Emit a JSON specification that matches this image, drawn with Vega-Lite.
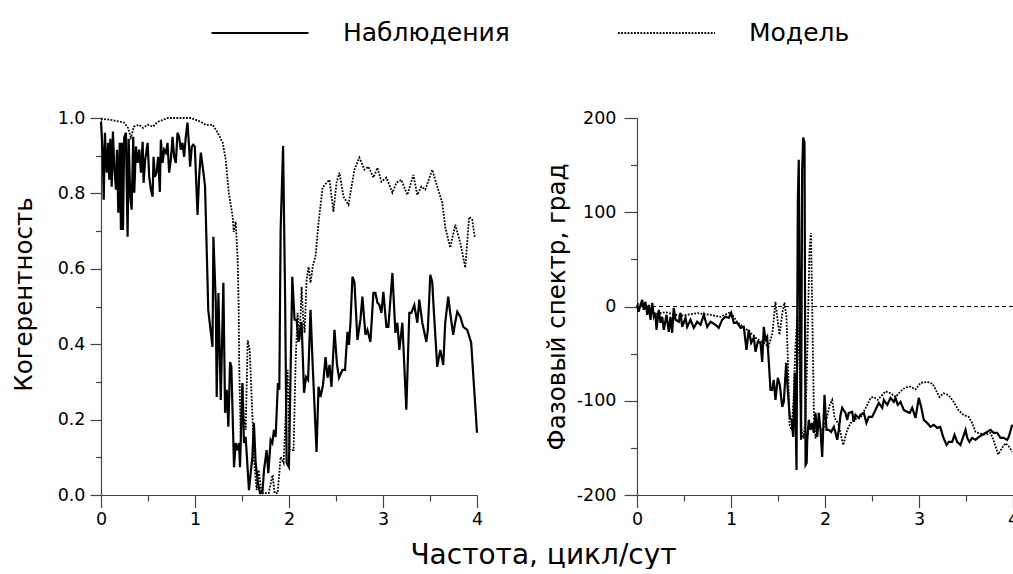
{
 "$schema": "https://vega.github.io/schema/vega-lite/v6.json",
 "background": "white",
 "padding": {"left": 11, "top": 19, "right": 0, "bottom": 0},
 "config": {
  "font": "DejaVu Sans",
  "view": {"stroke": null},
  "axis": {"grid": false, "domainColor": "#444", "tickColor": "#444", "domainWidth": 1.2, "tickWidth": 1.2, "labelFont": "DejaVu Sans", "labelFontSize": 17.5, "labelColor": "black", "titleFont": "DejaVu Sans", "titleFontSize": 24.5, "titleFontWeight": "normal", "titleColor": "black", "labelOverlap": false, "labelFlush": false}
 },
 "datasets": {
  "coh": [
   {"s":"Наблюдения","f":0,"v":0.99},{"s":"Наблюдения","f":0.018,"v":0.908},{"s":"Наблюдения","f":0.029,"v":0.783},{"s":"Наблюдения","f":0.042,"v":0.961},{"s":"Наблюдения","f":0.061,"v":0.855},{"s":"Наблюдения","f":0.077,"v":0.934},{"s":"Наблюдения","f":0.088,"v":0.836},{"s":"Наблюдения","f":0.099,"v":0.945},{"s":"Наблюдения","f":0.114,"v":0.818},{"s":"Наблюдения","f":0.127,"v":0.964},{"s":"Наблюдения","f":0.141,"v":0.871},{"s":"Наблюдения","f":0.159,"v":0.81},{"s":"Наблюдения","f":0.17,"v":0.916},{"s":"Наблюдения","f":0.184,"v":0.749},{"s":"Наблюдения","f":0.199,"v":0.934},{"s":"Наблюдения","f":0.212,"v":0.703},{"s":"Наблюдения","f":0.223,"v":0.934},{"s":"Наблюдения","f":0.234,"v":0.703},{"s":"Наблюдения","f":0.247,"v":0.948},{"s":"Наблюдения","f":0.265,"v":0.961},{"s":"Наблюдения","f":0.283,"v":0.685},{"s":"Наблюдения","f":0.294,"v":0.945},{"s":"Наблюдения","f":0.311,"v":0.791},{"s":"Наблюдения","f":0.326,"v":0.757},{"s":"Наблюдения","f":0.343,"v":0.95},{"s":"Наблюдения","f":0.354,"v":0.802},{"s":"Наблюдения","f":0.372,"v":0.924},{"s":"Наблюдения","f":0.39,"v":0.881},{"s":"Наблюдения","f":0.407,"v":0.916},{"s":"Наблюдения","f":0.425,"v":0.855},{"s":"Наблюдения","f":0.443,"v":0.937},{"s":"Наблюдения","f":0.453,"v":0.828},{"s":"Наблюдения","f":0.47,"v":0.889},{"s":"Наблюдения","f":0.496,"v":0.934},{"s":"Наблюдения","f":0.513,"v":0.844},{"s":"Наблюдения","f":0.531,"v":0.81},{"s":"Наблюдения","f":0.549,"v":0.791},{"s":"Наблюдения","f":0.559,"v":0.897},{"s":"Наблюдения","f":0.573,"v":0.844},{"s":"Наблюдения","f":0.591,"v":0.855},{"s":"Наблюдения","f":0.608,"v":0.897},{"s":"Наблюдения","f":0.626,"v":0.804},{"s":"Наблюдения","f":0.637,"v":0.942},{"s":"Наблюдения","f":0.655,"v":0.881},{"s":"Наблюдения","f":0.672,"v":0.916},{"s":"Наблюдения","f":0.69,"v":0.908},{"s":"Наблюдения","f":0.708,"v":0.934},{"s":"Наблюдения","f":0.725,"v":0.855},{"s":"Наблюдения","f":0.743,"v":0.889},{"s":"Наблюдения","f":0.761,"v":0.95},{"s":"Наблюдения","f":0.778,"v":0.897},{"s":"Наблюдения","f":0.796,"v":0.881},{"s":"Наблюдения","f":0.814,"v":0.961},{"s":"Наблюдения","f":0.831,"v":0.95},{"s":"Наблюдения","f":0.849,"v":0.916},{"s":"Наблюдения","f":0.867,"v":0.934},{"s":"Наблюдения","f":0.884,"v":0.897},{"s":"Наблюдения","f":0.902,"v":0.95},{"s":"Наблюдения","f":0.92,"v":0.988},{"s":"Наблюдения","f":0.937,"v":0.924},{"s":"Наблюдения","f":0.948,"v":0.871},{"s":"Наблюдения","f":0.966,"v":0.924},{"s":"Наблюдения","f":0.98,"v":0.929},{"s":"Наблюдения","f":0.998,"v":0.924},{"s":"Наблюдения","f":1.027,"v":0.743},{"s":"Наблюдения","f":1.044,"v":0.844},{"s":"Наблюдения","f":1.062,"v":0.908},{"s":"Наблюдения","f":1.086,"v":0.863},{"s":"Наблюдения","f":1.107,"v":0.818},{"s":"Наблюдения","f":1.133,"v":0.571},{"s":"Наблюдения","f":1.141,"v":0.491},{"s":"Наблюдения","f":1.186,"v":0.393},{"s":"Наблюдения","f":1.196,"v":0.685},{"s":"Наблюдения","f":1.221,"v":0.51},{"s":"Наблюдения","f":1.231,"v":0.26},{"s":"Наблюдения","f":1.249,"v":0.536},{"s":"Наблюдения","f":1.274,"v":0.252},{"s":"Наблюдения","f":1.302,"v":0.563},{"s":"Наблюдения","f":1.32,"v":0.218},{"s":"Наблюдения","f":1.338,"v":0.279},{"s":"Наблюдения","f":1.355,"v":0.181},{"s":"Наблюдения","f":1.373,"v":0.353},{"s":"Наблюдения","f":1.387,"v":0.34},{"s":"Наблюдения","f":1.415,"v":0.074},{"s":"Наблюдения","f":1.433,"v":0.138},{"s":"Наблюдения","f":1.451,"v":0.119},{"s":"Наблюдения","f":1.468,"v":0.138},{"s":"Наблюдения","f":1.479,"v":0.074},{"s":"Наблюдения","f":1.504,"v":0.297},{"s":"Наблюдения","f":1.521,"v":0.138},{"s":"Наблюдения","f":1.539,"v":0.154},{"s":"Наблюдения","f":1.574,"v":0.013},{"s":"Наблюдения","f":1.61,"v":0.101},{"s":"Наблюдения","f":1.627,"v":0.191},{"s":"Наблюдения","f":1.645,"v":0.085},{"s":"Наблюдения","f":1.67,"v":0.032},{"s":"Наблюдения","f":1.691,"v":0.005},{"s":"Наблюдения","f":1.717,"v":0.005},{"s":"Наблюдения","f":1.734,"v":0.066},{"s":"Наблюдения","f":1.762,"v":0.119},{"s":"Наблюдения","f":1.78,"v":0.058},{"s":"Наблюдения","f":1.805,"v":0.146},{"s":"Наблюдения","f":1.823,"v":0.138},{"s":"Наблюдения","f":1.84,"v":0.173},{"s":"Наблюдения","f":1.858,"v":0.154},{"s":"Наблюдения","f":1.882,"v":0.297},{"s":"Наблюдения","f":1.897,"v":0.279},{"s":"Наблюдения","f":1.911,"v":0.703},{"s":"Наблюдения","f":1.937,"v":0.926},{"s":"Наблюдения","f":1.959,"v":0.518},{"s":"Наблюдения","f":1.975,"v":0.085},{"s":"Наблюдения","f":1.999,"v":0.074},{"s":"Наблюдения","f":2.035,"v":0.579},{"s":"Наблюдения","f":2.059,"v":0.465},{"s":"Наблюдения","f":2.081,"v":0.465},{"s":"Наблюдения","f":2.102,"v":0.406},{"s":"Наблюдения","f":2.134,"v":0.459},{"s":"Наблюдения","f":2.16,"v":0.271},{"s":"Наблюдения","f":2.182,"v":0.313},{"s":"Наблюдения","f":2.203,"v":0.305},{"s":"Наблюдения","f":2.229,"v":0.491},{"s":"Наблюдения","f":2.251,"v":0.35},{"s":"Наблюдения","f":2.293,"v":0.114},{"s":"Наблюдения","f":2.314,"v":0.287},{"s":"Наблюдения","f":2.335,"v":0.26},{"s":"Наблюдения","f":2.362,"v":0.292},{"s":"Наблюдения","f":2.389,"v":0.366},{"s":"Наблюдения","f":2.41,"v":0.311},{"s":"Наблюдения","f":2.431,"v":0.345},{"s":"Наблюдения","f":2.452,"v":0.287},{"s":"Наблюдения","f":2.484,"v":0.438},{"s":"Наблюдения","f":2.511,"v":0.345},{"s":"Наблюдения","f":2.532,"v":0.311},{"s":"Наблюдения","f":2.569,"v":0.332},{"s":"Наблюдения","f":2.596,"v":0.332},{"s":"Наблюдения","f":2.622,"v":0.433},{"s":"Наблюдения","f":2.638,"v":0.398},{"s":"Наблюдения","f":2.654,"v":0.457},{"s":"Наблюдения","f":2.675,"v":0.579},{"s":"Наблюдения","f":2.696,"v":0.565},{"s":"Наблюдения","f":2.728,"v":0.411},{"s":"Наблюдения","f":2.76,"v":0.465},{"s":"Наблюдения","f":2.781,"v":0.526},{"s":"Наблюдения","f":2.813,"v":0.425},{"s":"Наблюдения","f":2.834,"v":0.438},{"s":"Наблюдения","f":2.866,"v":0.406},{"s":"Наблюдения","f":2.898,"v":0.536},{"s":"Наблюдения","f":2.919,"v":0.536},{"s":"Наблюдения","f":2.941,"v":0.51},{"s":"Наблюдения","f":2.962,"v":0.504},{"s":"Наблюдения","f":2.983,"v":0.483},{"s":"Наблюдения","f":3.004,"v":0.539},{"s":"Наблюдения","f":3.036,"v":0.446},{"s":"Наблюдения","f":3.057,"v":0.446},{"s":"Наблюдения","f":3.1,"v":0.589},{"s":"Наблюдения","f":3.132,"v":0.43},{"s":"Наблюдения","f":3.153,"v":0.457},{"s":"Наблюдения","f":3.174,"v":0.385},{"s":"Наблюдения","f":3.206,"v":0.457},{"s":"Наблюдения","f":3.248,"v":0.226},{"s":"Наблюдения","f":3.28,"v":0.483},{"s":"Наблюдения","f":3.301,"v":0.483},{"s":"Наблюдения","f":3.333,"v":0.504},{"s":"Наблюдения","f":3.365,"v":0.457},{"s":"Наблюдения","f":3.386,"v":0.518},{"s":"Наблюдения","f":3.418,"v":0.457},{"s":"Наблюдения","f":3.461,"v":0.406},{"s":"Наблюдения","f":3.477,"v":0.438},{"s":"Наблюдения","f":3.503,"v":0.584},{"s":"Наблюдения","f":3.524,"v":0.565},{"s":"Наблюдения","f":3.54,"v":0.491},{"s":"Наблюдения","f":3.577,"v":0.34},{"s":"Наблюдения","f":3.609,"v":0.385},{"s":"Наблюдения","f":3.641,"v":0.345},{"s":"Наблюдения","f":3.662,"v":0.457},{"s":"Наблюдения","f":3.694,"v":0.526},{"s":"Наблюдения","f":3.715,"v":0.483},{"s":"Наблюдения","f":3.747,"v":0.425},{"s":"Наблюдения","f":3.763,"v":0.451},{"s":"Наблюдения","f":3.79,"v":0.486},{"s":"Наблюдения","f":3.822,"v":0.473},{"s":"Наблюдения","f":3.854,"v":0.446},{"s":"Наблюдения","f":3.896,"v":0.438},{"s":"Наблюдения","f":3.938,"v":0.404},{"s":"Наблюдения","f":4.0,"v":0.165},
   {"s":"Модель","f":0,"v":0.998},{"s":"Модель","f":0.106,"v":0.995},{"s":"Модель","f":0.244,"v":0.988},{"s":"Модель","f":0.287,"v":0.974},{"s":"Модель","f":0.318,"v":0.948},{"s":"Модель","f":0.35,"v":0.977},{"s":"Модель","f":0.403,"v":0.982},{"s":"Модель","f":0.446,"v":0.974},{"s":"Модель","f":0.499,"v":0.982},{"s":"Модель","f":0.552,"v":0.977},{"s":"Модель","f":0.605,"v":0.99},{"s":"Модель","f":0.711,"v":1.0},{"s":"Модель","f":0.955,"v":1.0},{"s":"Модель","f":1.062,"v":0.99},{"s":"Модель","f":1.115,"v":0.982},{"s":"Модель","f":1.189,"v":0.982},{"s":"Модель","f":1.242,"v":0.961},{"s":"Модель","f":1.295,"v":0.934},{"s":"Модель","f":1.327,"v":0.889},{"s":"Модель","f":1.359,"v":0.802},{"s":"Модель","f":1.401,"v":0.738},{"s":"Модель","f":1.412,"v":0.698},{"s":"Модель","f":1.433,"v":0.725},{"s":"Модель","f":1.454,"v":0.624},{"s":"Модель","f":1.465,"v":0.491},{"s":"Модель","f":1.47,"v":0.35},{"s":"Модель","f":1.486,"v":0.154},{"s":"Модель","f":1.507,"v":0.297},{"s":"Модель","f":1.518,"v":0.207},{"s":"Модель","f":1.539,"v":0.173},{"s":"Модель","f":1.561,"v":0.411},{"s":"Модель","f":1.582,"v":0.385},{"s":"Модель","f":1.614,"v":0.191},{"s":"Модель","f":1.624,"v":0.101},{"s":"Модель","f":1.656,"v":0.013},{"s":"Модель","f":1.677,"v":0.066},{"s":"Модель","f":1.709,"v":0.005},{"s":"Модель","f":1.783,"v":0.005},{"s":"Модель","f":1.826,"v":0.053},{"s":"Модель","f":1.847,"v":0.005},{"s":"Модель","f":1.879,"v":0.005},{"s":"Модель","f":1.911,"v":0.101},{"s":"Модель","f":1.943,"v":0.085},{"s":"Модель","f":1.964,"v":0.207},{"s":"Модель","f":1.985,"v":0.332},{"s":"Модель","f":2.006,"v":0.119},{"s":"Модель","f":2.049,"v":0.119},{"s":"Модель","f":2.07,"v":0.35},{"s":"Модель","f":2.091,"v":0.483},{"s":"Модель","f":2.113,"v":0.411},{"s":"Модель","f":2.134,"v":0.552},{"s":"Модель","f":2.15,"v":0.473},{"s":"Модель","f":2.166,"v":0.43},{"s":"Модель","f":2.187,"v":0.571},{"s":"Модель","f":2.208,"v":0.605},{"s":"Модель","f":2.229,"v":0.563},{"s":"Модель","f":2.256,"v":0.611},{"s":"Модель","f":2.282,"v":0.632},{"s":"Модель","f":2.314,"v":0.722},{"s":"Модель","f":2.357,"v":0.815},{"s":"Модель","f":2.399,"v":0.828},{"s":"Модель","f":2.431,"v":0.836},{"s":"Модель","f":2.473,"v":0.751},{"s":"Модель","f":2.505,"v":0.828},{"s":"Модель","f":2.537,"v":0.855},{"s":"Модель","f":2.58,"v":0.791},{"s":"Модель","f":2.633,"v":0.77},{"s":"Модель","f":2.696,"v":0.863},{"s":"Модель","f":2.749,"v":0.895},{"s":"Модель","f":2.803,"v":0.863},{"s":"Модель","f":2.845,"v":0.871},{"s":"Модель","f":2.898,"v":0.842},{"s":"Модель","f":2.941,"v":0.868},{"s":"Модель","f":2.983,"v":0.831},{"s":"Модель","f":3.036,"v":0.842},{"s":"Модель","f":3.1,"v":0.802},{"s":"Модель","f":3.142,"v":0.828},{"s":"Модель","f":3.195,"v":0.836},{"s":"Модель","f":3.259,"v":0.796},{"s":"Модель","f":3.323,"v":0.849},{"s":"Модель","f":3.365,"v":0.796},{"s":"Модель","f":3.408,"v":0.818},{"s":"Модель","f":3.45,"v":0.81},{"s":"Модель","f":3.524,"v":0.863},{"s":"Модель","f":3.577,"v":0.818},{"s":"Модель","f":3.631,"v":0.775},{"s":"Модель","f":3.662,"v":0.711},{"s":"Модель","f":3.715,"v":0.656},{"s":"Модель","f":3.769,"v":0.717},{"s":"Модель","f":3.822,"v":0.669},{"s":"Модель","f":3.875,"v":0.603},{"s":"Модель","f":3.917,"v":0.738},{"s":"Модель","f":3.949,"v":0.73},{"s":"Модель","f":3.976,"v":0.685}
  ],
  "phase": [
   {"s":"Наблюдения","f":0.002,"v":1.8},{"s":"Наблюдения","f":0.016,"v":-5.6},{"s":"Наблюдения","f":0.055,"v":7.1},{"s":"Наблюдения","f":0.072,"v":-3.5},{"s":"Наблюдения","f":0.09,"v":5},{"s":"Наблюдения","f":0.109,"v":-8.8},{"s":"Наблюдения","f":0.126,"v":1.8},{"s":"Наблюдения","f":0.144,"v":-14.1},{"s":"Наблюдения","f":0.162,"v":3.9},{"s":"Наблюдения","f":0.179,"v":-10.9},{"s":"Наблюдения","f":0.197,"v":-6.7},{"s":"Наблюдения","f":0.207,"v":-24.7},{"s":"Наблюдения","f":0.232,"v":-3.5},{"s":"Наблюдения","f":0.25,"v":-17.3},{"s":"Наблюдения","f":0.268,"v":-10.9},{"s":"Наблюдения","f":0.285,"v":-24.7},{"s":"Наблюдения","f":0.314,"v":-8.8},{"s":"Наблюдения","f":0.338,"v":-26.9},{"s":"Наблюдения","f":0.356,"v":-10.9},{"s":"Наблюдения","f":0.374,"v":-27.9},{"s":"Наблюдения","f":0.391,"v":-1.4},{"s":"Наблюдения","f":0.41,"v":-14.1},{"s":"Наблюдения","f":0.445,"v":-16.2},{"s":"Наблюдения","f":0.463,"v":-6.7},{"s":"Наблюдения","f":0.481,"v":-21.6},{"s":"Наблюдения","f":0.516,"v":-12},{"s":"Наблюдения","f":0.534,"v":-21.6},{"s":"Наблюдения","f":0.569,"v":-14.1},{"s":"Наблюдения","f":0.604,"v":-22.6},{"s":"Наблюдения","f":0.64,"v":-16.2},{"s":"Наблюдения","f":0.676,"v":-19.4},{"s":"Наблюдения","f":0.711,"v":-8.8},{"s":"Наблюдения","f":0.747,"v":-21.6},{"s":"Наблюдения","f":0.782,"v":-16.2},{"s":"Наблюдения","f":0.835,"v":-19.4},{"s":"Наблюдения","f":0.87,"v":-22.6},{"s":"Наблюдения","f":0.906,"v":-14.1},{"s":"Наблюдения","f":0.941,"v":-10.9},{"s":"Наблюдения","f":0.977,"v":-12},{"s":"Наблюдения","f":1.002,"v":-6.7},{"s":"Наблюдения","f":1.03,"v":-17.3},{"s":"Наблюдения","f":1.066,"v":-17.3},{"s":"Наблюдения","f":1.101,"v":-22.6},{"s":"Наблюдения","f":1.136,"v":-21.6},{"s":"Наблюдения","f":1.165,"v":-46},{"s":"Наблюдения","f":1.189,"v":-24.7},{"s":"Наблюдения","f":1.215,"v":-38.5},{"s":"Наблюдения","f":1.243,"v":-33.1},{"s":"Наблюдения","f":1.261,"v":-48.1},{"s":"Наблюдения","f":1.285,"v":-37.5},{"s":"Наблюдения","f":1.314,"v":-38.5},{"s":"Наблюдения","f":1.332,"v":-58.7},{"s":"Наблюдения","f":1.349,"v":-21.6},{"s":"Наблюдения","f":1.367,"v":-35.4},{"s":"Наблюдения","f":1.385,"v":-32.2},{"s":"Наблюдения","f":1.404,"v":-61.9},{"s":"Наблюдения","f":1.42,"v":-88.5},{"s":"Наблюдения","f":1.438,"v":-88.5},{"s":"Наблюдения","f":1.455,"v":-77.8},{"s":"Наблюдения","f":1.473,"v":-99.1},{"s":"Наблюдения","f":1.498,"v":-75.7},{"s":"Наблюдения","f":1.519,"v":-83.1},{"s":"Наблюдения","f":1.545,"v":-106.5},{"s":"Наблюдения","f":1.562,"v":-101.2},{"s":"Наблюдения","f":1.587,"v":-59.8},{"s":"Наблюдения","f":1.604,"v":-88.5},{"s":"Наблюдения","f":1.626,"v":-118.2},{"s":"Наблюдения","f":1.644,"v":-120.3},{"s":"Наблюдения","f":1.662,"v":-138.4},{"s":"Наблюдения","f":1.679,"v":-70.4},{"s":"Наблюдения","f":1.697,"v":-173.4},{"s":"Наблюдения","f":1.711,"v":113.3},{"s":"Наблюдения","f":1.721,"v":155.8},{"s":"Наблюдения","f":1.732,"v":-14.1},{"s":"Наблюдения","f":1.745,"v":-141.5},{"s":"Наблюдения","f":1.757,"v":145.2},{"s":"Наблюдения","f":1.768,"v":179.2},{"s":"Наблюдения","f":1.782,"v":173.9},{"s":"Наблюдения","f":1.793,"v":-168.1},{"s":"Наблюдения","f":1.805,"v":-166},{"s":"Наблюдения","f":1.811,"v":-141.5},{"s":"Наблюдения","f":1.828,"v":-120.3},{"s":"Наблюдения","f":1.846,"v":-130.9},{"s":"Наблюдения","f":1.864,"v":-123.5},{"s":"Наблюдения","f":1.881,"v":-134.1},{"s":"Наблюдения","f":1.899,"v":-112.9},{"s":"Наблюдения","f":1.917,"v":-138.4},{"s":"Наблюдения","f":1.934,"v":-112.9},{"s":"Наблюдения","f":1.952,"v":-130.9},{"s":"Наблюдения","f":1.97,"v":-159.6},{"s":"Наблюдения","f":1.995,"v":-93.8},{"s":"Наблюдения","f":2.016,"v":-130.9},{"s":"Наблюдения","f":2.04,"v":-130.9},{"s":"Наблюдения","f":2.066,"v":-133.1},{"s":"Наблюдения","f":2.094,"v":-127.7},{"s":"Наблюдения","f":2.112,"v":-134.1},{"s":"Наблюдения","f":2.13,"v":-141.5},{"s":"Наблюдения","f":2.147,"v":-130.9},{"s":"Наблюдения","f":2.165,"v":-115},{"s":"Наблюдения","f":2.183,"v":-107.5},{"s":"Наблюдения","f":2.218,"v":-112.9},{"s":"Наблюдения","f":2.236,"v":-120.3},{"s":"Наблюдения","f":2.253,"v":-112.9},{"s":"Наблюдения","f":2.289,"v":-111.8},{"s":"Наблюдения","f":2.306,"v":-122.4},{"s":"Наблюдения","f":2.324,"v":-115},{"s":"Наблюдения","f":2.36,"v":-118.2},{"s":"Наблюдения","f":2.378,"v":-115},{"s":"Наблюдения","f":2.413,"v":-112.9},{"s":"Наблюдения","f":2.441,"v":-123.5},{"s":"Наблюдения","f":2.466,"v":-117.1},{"s":"Наблюдения","f":2.502,"v":-117.1},{"s":"Наблюдения","f":2.537,"v":-109.7},{"s":"Наблюдения","f":2.572,"v":-102.3},{"s":"Наблюдения","f":2.609,"v":-107.5},{"s":"Наблюдения","f":2.626,"v":-99.1},{"s":"Наблюдения","f":2.662,"v":-104.4},{"s":"Наблюдения","f":2.697,"v":-96.9},{"s":"Наблюдения","f":2.732,"v":-101.2},{"s":"Наблюдения","f":2.75,"v":-96.9},{"s":"Наблюдения","f":2.774,"v":-104.4},{"s":"Наблюдения","f":2.803,"v":-101.2},{"s":"Наблюдения","f":2.838,"v":-109.7},{"s":"Наблюдения","f":2.874,"v":-111.8},{"s":"Наблюдения","f":2.902,"v":-112.9},{"s":"Наблюдения","f":2.928,"v":-107.5},{"s":"Наблюдения","f":2.963,"v":-118.2},{"s":"Наблюдения","f":2.998,"v":-96.9},{"s":"Наблюдения","f":3.023,"v":-106.5},{"s":"Наблюдения","f":3.051,"v":-120.3},{"s":"Наблюдения","f":3.087,"v":-123.5},{"s":"Наблюдения","f":3.122,"v":-127.7},{"s":"Наблюдения","f":3.157,"v":-125.6},{"s":"Наблюдения","f":3.194,"v":-128.8},{"s":"Наблюдения","f":3.226,"v":-127.7},{"s":"Наблюдения","f":3.257,"v":-138.4},{"s":"Наблюдения","f":3.293,"v":-146.9},{"s":"Наблюдения","f":3.317,"v":-143.7},{"s":"Наблюдения","f":3.353,"v":-143.7},{"s":"Наблюдения","f":3.378,"v":-136.2},{"s":"Наблюдения","f":3.406,"v":-143.7},{"s":"Наблюдения","f":3.441,"v":-146.9},{"s":"Наблюдения","f":3.477,"v":-136.2},{"s":"Наблюдения","f":3.495,"v":-130.9},{"s":"Наблюдения","f":3.513,"v":-139.4},{"s":"Наблюдения","f":3.537,"v":-143.7},{"s":"Наблюдения","f":3.566,"v":-139.4},{"s":"Наблюдения","f":3.601,"v":-141.5},{"s":"Наблюдения","f":3.636,"v":-138.4},{"s":"Наблюдения","f":3.672,"v":-136.2},{"s":"Наблюдения","f":3.707,"v":-134.1},{"s":"Наблюдения","f":3.761,"v":-130.9},{"s":"Наблюдения","f":3.796,"v":-134.1},{"s":"Наблюдения","f":3.832,"v":-134.1},{"s":"Наблюдения","f":3.867,"v":-139.4},{"s":"Наблюдения","f":3.902,"v":-139.4},{"s":"Наблюдения","f":3.938,"v":-141.5},{"s":"Наблюдения","f":3.955,"v":-138.4},{"s":"Наблюдения","f":3.991,"v":-125.6},
   {"s":"Модель","f":0.002,"v":3},{"s":"Модель","f":0.09,"v":0},{"s":"Модель","f":0.197,"v":-8},{"s":"Модель","f":0.303,"v":-6},{"s":"Модель","f":0.463,"v":-10},{"s":"Модель","f":0.644,"v":-7},{"s":"Модель","f":0.782,"v":-9},{"s":"Модель","f":0.888,"v":-11},{"s":"Модель","f":0.995,"v":-6},{"s":"Модель","f":1.069,"v":-17},{"s":"Модель","f":1.176,"v":-25},{"s":"Модель","f":1.282,"v":-35},{"s":"Модель","f":1.346,"v":-38},{"s":"Модель","f":1.399,"v":-43},{"s":"Модель","f":1.441,"v":-28},{"s":"Модель","f":1.473,"v":5},{"s":"Модель","f":1.495,"v":-14},{"s":"Модель","f":1.516,"v":-30},{"s":"Модель","f":1.548,"v":-6},{"s":"Модель","f":1.569,"v":4},{"s":"Модель","f":1.59,"v":-11},{"s":"Модель","f":1.606,"v":-60},{"s":"Модель","f":1.622,"v":-125},{"s":"Модель","f":1.644,"v":-131},{"s":"Модель","f":1.665,"v":-100},{"s":"Модель","f":1.686,"v":-40},{"s":"Модель","f":1.707,"v":-10},{"s":"Модель","f":1.729,"v":-60},{"s":"Модель","f":1.75,"v":-130},{"s":"Модель","f":1.771,"v":-140},{"s":"Модель","f":1.793,"v":-120},{"s":"Модель","f":1.814,"v":-40},{"s":"Модель","f":1.835,"v":60},{"s":"Модель","f":1.851,"v":78},{"s":"Модель","f":1.867,"v":-20},{"s":"Модель","f":1.883,"v":-120},{"s":"Модель","f":1.899,"v":-140},{"s":"Модель","f":1.931,"v":-128},{"s":"Модель","f":1.973,"v":-132},{"s":"Модель","f":2.016,"v":-120},{"s":"Модель","f":2.048,"v":-105},{"s":"Модель","f":2.077,"v":-99},{"s":"Модель","f":2.101,"v":-118},{"s":"Модель","f":2.144,"v":-125},{"s":"Модель","f":2.194,"v":-147},{"s":"Модель","f":2.236,"v":-131},{"s":"Модель","f":2.271,"v":-124},{"s":"Модель","f":2.303,"v":-120},{"s":"Модель","f":2.378,"v":-118},{"s":"Модель","f":2.41,"v":-112},{"s":"Модель","f":2.452,"v":-104},{"s":"Модель","f":2.484,"v":-97},{"s":"Модель","f":2.516,"v":-96},{"s":"Модель","f":2.559,"v":-99},{"s":"Модель","f":2.59,"v":-96},{"s":"Модель","f":2.644,"v":-90},{"s":"Модель","f":2.697,"v":-92},{"s":"Модель","f":2.75,"v":-96},{"s":"Модель","f":2.803,"v":-90},{"s":"Модель","f":2.856,"v":-86},{"s":"Модель","f":2.91,"v":-85},{"s":"Модель","f":2.963,"v":-88},{"s":"Модель","f":3.016,"v":-81},{"s":"Модель","f":3.09,"v":-80},{"s":"Модель","f":3.144,"v":-82},{"s":"Модель","f":3.176,"v":-88},{"s":"Модель","f":3.218,"v":-96},{"s":"Модель","f":3.261,"v":-92},{"s":"Модель","f":3.314,"v":-94},{"s":"Модель","f":3.367,"v":-101},{"s":"Модель","f":3.42,"v":-110},{"s":"Модель","f":3.473,"v":-115},{"s":"Модель","f":3.527,"v":-117},{"s":"Модель","f":3.569,"v":-124},{"s":"Модель","f":3.601,"v":-133},{"s":"Модель","f":3.654,"v":-135},{"s":"Модель","f":3.707,"v":-136},{"s":"Модель","f":3.761,"v":-134},{"s":"Модель","f":3.793,"v":-142},{"s":"Модель","f":3.843,"v":-157},{"s":"Модель","f":3.885,"v":-150},{"s":"Модель","f":3.92,"v":-145},{"s":"Модель","f":3.952,"v":-148},{"s":"Модель","f":3.991,"v":-154}
  ]
 },
 "spacing": 160,
 "bounds": "flush",
 "hconcat": [
  {
   "width": 376,
   "height": 377,
   "data": {"name": "coh"},
   "mark": {"type": "line", "color": "black"},
   "encoding": {
    "x": {"field": "f", "type": "quantitative", "scale": {"domain": [0, 4], "nice": false},
     "axis": {"values": [0, 0.5, 1, 1.5, 2, 2.5, 3, 3.5, 4], "labelExpr": "datum.value % 1 === 0 ? '' + datum.value : ''",
      "tickSize": {"condition": {"test": "datum.value % 1 === 0", "value": 12.5}, "value": 6}, "labelPadding": 3,
      "title": "Частота, цикл/сут", "titleX": 442, "titleY": 68, "titleAlign": "center", "titleBaseline": "alphabetic", "titleFontSize": 28}},
    "y": {"field": "v", "type": "quantitative", "scale": {"domain": [0, 1], "nice": false, "zero": false},
     "axis": {"values": [0, 0.1, 0.2, 0.3, 0.4, 0.5, 0.6, 0.7, 0.8, 0.9, 1], "labelExpr": "round(datum.value*10) % 2 === 0 ? format(datum.value, '.1f') : ''",
      "tickSize": {"condition": {"test": "round(datum.value*10) % 2 === 0", "value": 11}, "value": 5.5}, "labelPadding": 5,
      "title": "Когерентность", "titlePadding": 21, "titleY": 176}},
    "strokeDash": {"field": "s", "type": "nominal", "scale": {"domain": ["Наблюдения", "Модель"], "range": [[1, 0], [1.8, 1.4]]},
     "legend": {"title": null, "orient": "none", "legendX": 109, "legendY": -99, "direction": "horizontal", "symbolType": "stroke", "symbolSize": 9409, "symbolStrokeWidth": 1.5, "symbolStrokeColor": "black", "clipHeight": 28, "labelFontSize": 25, "labelFont": "DejaVu Sans", "labelColor": "black", "labelOffset": 33, "labelLimit": 500, "columnPadding": 107, "padding": 0}},
    "strokeWidth": {"field": "s", "type": "nominal", "scale": {"domain": ["Наблюдения", "Модель"], "range": [2.2, 1.8]}, "legend": null}
   }
  },
  {
   "width": 376,
   "height": 377,
   "layer": [
    {
     "data": {"values": [{}]},
     "mark": {"type": "rule", "color": "black", "strokeDash": [4, 3], "strokeWidth": 1},
     "encoding": {"y": {"datum": 0}}
    },
    {
     "data": {"name": "phase"},
     "mark": {"type": "line", "color": "black"},
     "encoding": {
      "x": {"field": "f", "type": "quantitative", "scale": {"domain": [0, 4], "nice": false},
       "axis": {"values": [0, 0.5, 1, 1.5, 2, 2.5, 3, 3.5, 4], "labelExpr": "datum.value % 1 === 0 ? '' + datum.value : ''",
        "tickSize": {"condition": {"test": "datum.value % 1 === 0", "value": 12.5}, "value": 6}, "labelPadding": 3, "title": null}},
      "y": {"field": "v", "type": "quantitative", "scale": {"domain": [-200, 200], "nice": false, "zero": false},
       "axis": {"values": [-200, -150, -100, -50, 0, 50, 100, 150, 200], "labelExpr": "datum.value % 100 === 0 ? '' + datum.value : ''",
        "tickSize": {"condition": {"test": "datum.value % 100 === 0", "value": 13}, "value": 6.5}, "labelPadding": 8,
        "title": "Фазовый спектр, град", "titlePadding": 7}},
      "strokeDash": {"field": "s", "type": "nominal", "scale": {"domain": ["Наблюдения", "Модель"], "range": [[1, 0], [1.8, 1.4]]}},
      "strokeWidth": {"field": "s", "type": "nominal", "scale": {"domain": ["Наблюдения", "Модель"], "range": [2.2, 1.8]}, "legend": null}
     }
    }
   ]
  }
 ]
}
